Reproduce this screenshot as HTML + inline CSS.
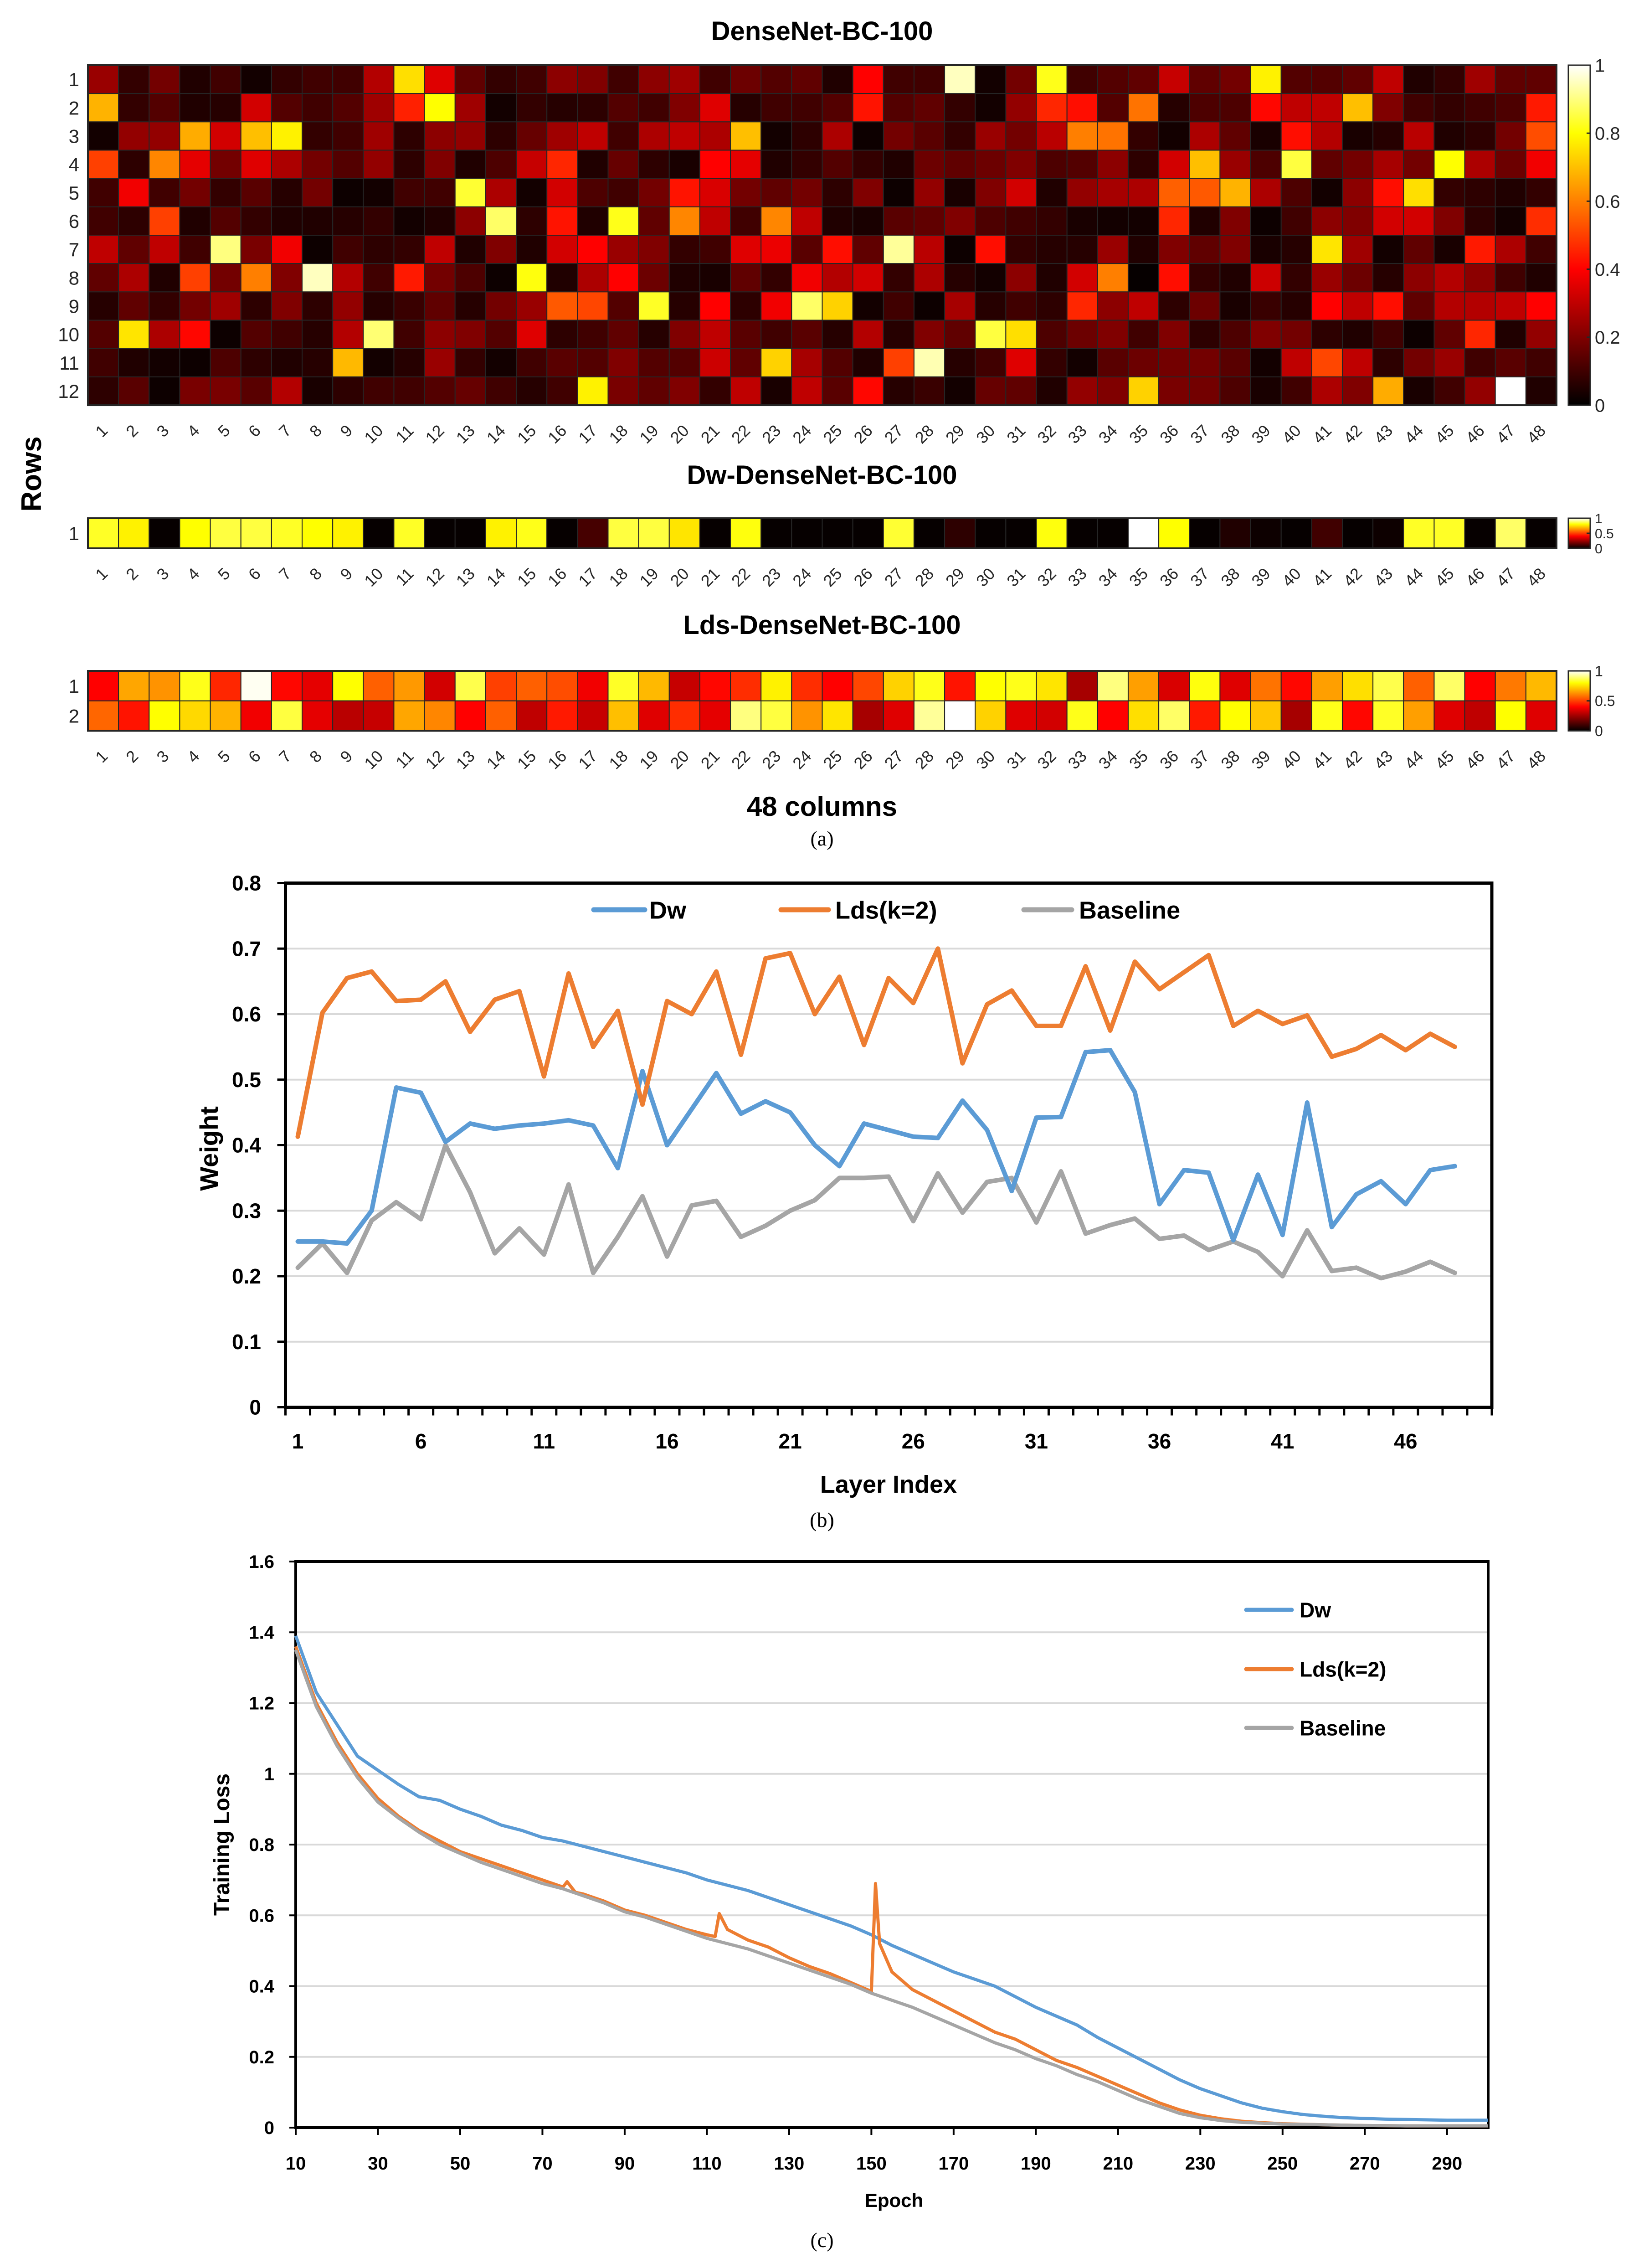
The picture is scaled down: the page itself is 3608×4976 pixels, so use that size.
<!DOCTYPE html>
<html><head><meta charset="utf-8"><title>DenseNet weights figure</title>
<style>
html,body{margin:0;padding:0;background:#fff;}
svg{display:block;}
.t{font-family:"Liberation Sans Narrow","Liberation Sans",sans-serif;font-weight:bold;fill:#000;}
.m{font-family:"Liberation Sans",sans-serif;fill:#262626;}
.s{font-family:"Liberation Serif",serif;fill:#000;}
</style></head>
<body>
<svg id="fig" xmlns="http://www.w3.org/2000/svg" width="3608" height="4976" viewBox="0 0 3608 4976">
<defs>
<linearGradient id="hotgrad" x1="0" y1="1" x2="0" y2="0">
<stop offset="0" stop-color="#000"/><stop offset="0.4" stop-color="#f00"/><stop offset="0.8" stop-color="#ff0"/><stop offset="1" stop-color="#fff"/>
</linearGradient>
</defs>
<g id="panelA"></g>
<g id="panelB"></g>
<g id="panelC"></g>
</svg>
<script>
// ---------- Panel (a) data ----------
const heatCols = [1,2,3,4,5,6,7,8,9,10,11,12,13,14,15,16,17,18,19,20,21,22,23,24,25,26,27,28,29,30,31,32,33,34,35,36,37,38,39,40,41,42,43,44,45,46,47,48];
const denseRow1 = [.24,.08,.18,.05,.1,.03,.08,.1,.1,.28,.75,.35,.15,.08,.1,.22,.2,.1,.22,.25,.1,.17,.13,.15,.05,.4,.1,.1,.95,.03,.18,.82,.1,.13,.15,.31,.15,.18,.78,.13,.13,.15,.3,.05,.08,.25,.15,.15];
const denseRow2 = [.68,.08,.13,.05,.06,.33,.13,.1,.13,.25,.45,.8,.25,.03,.08,.06,.07,.13,.1,.2,.35,.06,.1,.1,.13,.43,.13,.15,.08,.03,.23,.46,.42,.13,.58,.06,.12,.12,.41,.3,.3,.7,.2,.1,.08,.1,.12,.44];
const denseRow3 = [.03,.23,.23,.67,.33,.7,.78,.08,.1,.25,.07,.22,.23,.07,.16,.25,.3,.1,.27,.3,.27,.7,.03,.07,.27,.02,.18,.14,.08,.24,.18,.29,.6,.58,.08,.03,.27,.15,.04,.42,.28,.04,.06,.29,.05,.07,.18,.52];
const denseRow4 = [.5,.07,.61,.36,.18,.35,.27,.18,.13,.23,.07,.2,.05,.12,.31,.46,.05,.16,.07,.04,.4,.36,.05,.08,.13,.08,.05,.17,.15,.17,.2,.12,.13,.22,.07,.33,.7,.24,.12,.85,.15,.18,.26,.18,.8,.27,.17,.38];
const denseRow5 = [.1,.38,.1,.18,.08,.14,.06,.18,.02,.03,.1,.1,.84,.27,.03,.33,.12,.1,.18,.43,.34,.18,.15,.18,.07,.2,.02,.23,.04,.2,.33,.05,.23,.26,.27,.55,.54,.68,.27,.12,.03,.22,.42,.75,.08,.07,.05,.08];
const denseRow6 = [.1,.07,.5,.05,.13,.08,.05,.05,.06,.08,.03,.05,.22,.88,.07,.43,.05,.82,.15,.61,.3,.1,.61,.3,.05,.04,.14,.15,.2,.12,.1,.08,.04,.03,.03,.46,.05,.2,.02,.1,.22,.2,.33,.33,.2,.07,.03,.47];
const denseRow7 = [.3,.15,.3,.1,.9,.19,.38,.02,.1,.07,.08,.3,.05,.2,.05,.33,.4,.24,.2,.08,.1,.35,.37,.14,.42,.15,.92,.29,.02,.42,.08,.06,.06,.24,.05,.2,.15,.2,.04,.06,.76,.25,.03,.15,.04,.44,.27,.1];
const denseRow8 = [.15,.27,.05,.5,.18,.6,.2,.95,.28,.1,.44,.18,.12,.02,.81,.05,.27,.4,.17,.05,.04,.15,.08,.38,.28,.33,.08,.27,.06,.03,.22,.05,.33,.6,.01,.42,.08,.05,.32,.08,.24,.17,.06,.22,.28,.22,.1,.05];
const denseRow9 = [.06,.15,.08,.18,.25,.07,.2,.07,.23,.06,.09,.15,.06,.18,.24,.54,.51,.13,.83,.06,.4,.07,.38,.88,.73,.03,.1,.02,.26,.06,.1,.07,.46,.22,.3,.07,.17,.04,.09,.06,.4,.3,.42,.15,.28,.28,.3,.4];
const denseRow10 = [.13,.76,.27,.41,.02,.13,.1,.06,.28,.89,.1,.22,.2,.13,.35,.07,.1,.15,.06,.2,.3,.14,.1,.14,.06,.28,.06,.2,.15,.85,.75,.12,.17,.2,.1,.2,.07,.12,.2,.18,.07,.05,.1,.02,.15,.46,.05,.23];
const denseRow11 = [.1,.05,.03,.02,.12,.07,.05,.06,.69,.03,.06,.24,.08,.03,.1,.14,.13,.2,.13,.13,.32,.15,.73,.26,.13,.05,.5,.94,.06,.1,.35,.08,.03,.14,.17,.18,.18,.14,.03,.3,.51,.3,.07,.18,.24,.1,.14,.1];
const denseRow12 = [.07,.14,.02,.19,.19,.14,.28,.04,.07,.1,.1,.13,.16,.1,.06,.1,.78,.19,.15,.2,.08,.3,.04,.3,.14,.41,.06,.09,.03,.16,.15,.05,.23,.2,.73,.19,.18,.12,.04,.1,.27,.2,.67,.04,.1,.23,1.0,.05];
const dwRow1 = [.83,.78,.01,.8,.85,.85,.83,.8,.78,.01,.83,.01,.01,.78,.82,.01,.11,.85,.85,.76,.01,.81,.01,.01,.01,.01,.84,.01,.07,.01,.01,.81,.01,.01,1.0,.8,.01,.05,.02,.01,.1,.01,.02,.83,.83,.01,.88,.01];
const ldsRow1 = [.4,.66,.63,.82,.46,.99,.41,.36,.8,.55,.64,.33,.86,.5,.55,.52,.38,.83,.69,.31,.41,.47,.78,.47,.4,.51,.73,.82,.43,.8,.82,.76,.26,.9,.65,.34,.81,.35,.58,.41,.65,.75,.86,.55,.88,.4,.59,.69];
const ldsRow2 = [.56,.43,.8,.74,.68,.38,.85,.36,.29,.31,.66,.61,.4,.55,.3,.44,.31,.7,.35,.47,.36,.9,.85,.63,.76,.26,.35,.92,1.0,.73,.35,.33,.82,.4,.75,.88,.44,.8,.71,.26,.82,.41,.83,.65,.35,.3,.8,.35];
const denseCbTicks = [0,0.2,0.4,0.6,0.8,1];
const smallCbTicks = [0,0.5,1];

// ---------- Panel (b) data ----------
const layerIdx = [1,2,3,4,5,6,7,8,9,10,11,12,13,14,15,16,17,18,19,20,21,22,23,24,25,26,27,28,29,30,31,32,33,34,35,36,37,38,39,40,41,42,43,44,45,46,47,48];
const dwWeight = [.253,.253,.25,.30,.488,.48,.405,.433,.425,.43,.433,.438,.43,.365,.513,.40,.455,.51,.448,.467,.45,.40,.368,.433,.423,.413,.411,.468,.423,.33,.442,.443,.542,.545,.481,.31,.362,.358,.255,.355,.263,.465,.275,.325,.345,.31,.362,.368];
const ldsWeight = [.413,.602,.655,.665,.62,.622,.65,.573,.622,.635,.505,.662,.55,.605,.462,.62,.6,.665,.538,.685,.693,.6,.657,.553,.655,.617,.70,.525,.615,.636,.582,.582,.673,.575,.68,.638,.664,.69,.582,.605,.585,.598,.535,.547,.568,.545,.57,.55];
const baseWeight = [.213,.25,.205,.285,.313,.287,.40,.328,.235,.273,.233,.34,.205,.26,.322,.23,.308,.315,.26,.277,.30,.316,.35,.35,.352,.284,.357,.297,.344,.35,.282,.36,.265,.278,.288,.257,.262,.24,.253,.237,.20,.27,.208,.213,.197,.207,.222,.205];
const bYTicks = [0,0.1,0.2,0.3,0.4,0.5,0.6,0.7,0.8];
const bXLabels = [1,6,11,16,21,26,31,36,41,46];

// ---------- Panel (c) data ----------
const dwEpochs = [10,15,20,25,30,35,40,45,50,55,60,65,70,75,80,85,90,95,100,105,110,115,120,125,130,135,140,145,150,155,160,165,170,175,180,185,190,195,200,205,210,215,220,225,230,235,240,245,250,255,260,265,270,275,280,285,290,295,300];
const dwLoss = [1.39,1.23,1.14,1.05,1.01,0.97,0.935,0.925,0.90,0.88,0.855,0.84,0.82,0.81,0.795,0.78,0.765,0.75,0.735,0.72,0.70,0.685,0.67,0.65,0.63,0.61,0.59,0.57,0.545,0.515,0.49,0.465,0.44,0.42,0.40,0.37,0.34,0.315,0.29,0.255,0.225,0.195,0.165,0.135,0.11,0.09,0.07,0.055,0.045,0.037,0.032,0.028,0.026,0.024,0.023,0.022,0.021,0.021,0.021];
const ldsEpochs = [10,15,20,25,30,35,40,45,50,55,60,65,70,75,76,78,80,85,90,95,100,105,110,112,113,115,120,125,130,135,140,145,150,151,152,155,160,165,170,175,180,185,190,195,200,205,210,215,220,225,230,235,240,245,250,260,270,280,290,300];
const ldsLoss = [1.36,1.2,1.09,1.0,0.93,0.88,0.84,0.81,0.78,0.76,0.74,0.72,0.70,0.68,0.695,0.665,0.66,0.64,0.615,0.6,0.58,0.56,0.545,0.54,0.605,0.56,0.53,0.51,0.48,0.455,0.435,0.41,0.385,0.69,0.52,0.44,0.39,0.36,0.33,0.30,0.27,0.25,0.22,0.19,0.17,0.145,0.12,0.095,0.07,0.05,0.035,0.025,0.018,0.014,0.011,0.008,0.006,0.005,0.005,0.005];
const baseEpochs = [10,15,20,25,30,35,40,45,50,55,60,65,70,75,80,85,90,95,100,105,110,115,120,125,130,135,140,145,150,155,160,165,170,175,180,185,190,195,200,205,210,215,220,225,230,235,240,250,260,270,280,300];
const baseLoss = [1.35,1.19,1.08,0.99,0.92,0.875,0.835,0.80,0.775,0.75,0.73,0.71,0.69,0.675,0.655,0.635,0.61,0.595,0.575,0.555,0.535,0.52,0.505,0.485,0.465,0.445,0.425,0.405,0.38,0.36,0.34,0.315,0.29,0.265,0.24,0.22,0.195,0.175,0.15,0.13,0.105,0.08,0.06,0.04,0.028,0.02,0.015,0.01,0.008,0.006,0.005,0.005];
const cYTicks = [0,0.2,0.4,0.6,0.8,1,1.2,1.4,1.6];
const cYTickText = ["0","0.2","0.4","0.6","0.8","1","1.2","1.4","1.6"];
const cXTicks = [10,30,50,70,90,110,130,150,170,190,210,230,250,270,290];

const NS = "http://www.w3.org/2000/svg";
function mk(parent, tag, attrs, text){
  const e = document.createElementNS(NS, tag);
  for (const k in attrs) e.setAttribute(k, attrs[k]);
  if (text !== undefined) e.textContent = text;
  parent.appendChild(e);
  return e;
}
function hot(v){
  const c = x => Math.max(0, Math.min(1, x));
  const r = Math.round(255*c(v/0.4)), g = Math.round(255*c((v-0.4)/0.4)), b = Math.round(255*c((v-0.8)/0.2));
  return `rgb(${r},${g},${b})`;
}

// ---------- Panel (a) ----------
const A = document.getElementById('panelA');
const HX0 = 193, HW = 3223, CW = HW/heatCols.length;
function colX(i){ return HX0 + i*CW; }

function heatmap(rows, y0, rh, name, cbTicks, cbFont){
  const g = mk(A, 'g', {});
  
  
  rows.forEach((row, r) => {
    row.forEach((v, c) => {
      const rect = mk(g, 'rect', {x: colX(c), y: y0 + r*rh, width: CW, height: rh, fill: hot(v), stroke: '#262626', 'stroke-width': 2});
      
      
    });
    const rl = mk(g, 'text', {x: 174, y: y0 + r*rh + rh/2 + 15, 'text-anchor': 'end', 'font-size': 42, class: 'm'}, String(r+1));
    
    
  });
  const bottom = y0 + rows.length*rh;
  mk(g, 'rect', {x: HX0, y: y0, width: HW, height: bottom - y0, fill: 'none', stroke: '#262626', 'stroke-width': 4});
  heatCols.forEach((lab, c) => {
    const cx = colX(c) + CW/2 + 12, cy = bottom + 58;
    const t = mk(g, 'text', {x: cx, y: cy, 'text-anchor': 'end', 'font-size': 36, class: 'm', transform: `rotate(-45 ${cx} ${cy})`}, String(lab));
    
    
  });
  const cbx = 3442, cbw = 48;
  const cb = mk(g, 'rect', {x: cbx, y: y0, width: cbw, height: bottom - y0, fill: 'url(#hotgrad)', stroke: '#262626', 'stroke-width': 3});
  
  
  cbTicks.forEach(tv => {
    const ty = bottom - tv*(bottom - y0);
    mk(g, 'line', {x1: cbx + cbw - 8, x2: cbx + cbw, y1: ty, y2: ty, stroke: '#262626', 'stroke-width': 3});
    const tl = mk(g, 'text', {x: cbx + cbw + 10, y: ty + cbFont*0.36, 'font-size': cbFont, class: 'm'}, String(tv));
    
    
  });
}

function title(txt, y, name, size){
  const t = mk(A, 'text', {x: 1804, y: y, 'text-anchor': 'middle', 'font-size': size, class: 't'}, txt);
  
  
}
title('DenseNet-BC-100', 88, 'densenet-title', 58);
heatmap([denseRow1,denseRow2,denseRow3,denseRow4,denseRow5,denseRow6,denseRow7,denseRow8,denseRow9,denseRow10,denseRow11,denseRow12], 143, 62.17, 'densenet-heatmap', denseCbTicks, 40);
title('Dw-DenseNet-BC-100', 1062, 'dw-densenet-title', 58);
heatmap([dwRow1], 1137, 66, 'dw-heatmap', smallCbTicks, 30);
title('Lds-DenseNet-BC-100', 1391, 'lds-densenet-title', 58);
heatmap([ldsRow1, ldsRow2], 1472, 65.7, 'lds-heatmap', smallCbTicks, 32);
{
  const r = mk(A, 'text', {x: 0, y: 0, 'text-anchor': 'middle', 'font-size': 62, class: 't', transform: 'translate(90 1040) rotate(-90)'}, 'Rows');
  
  
  title('48 columns', 1790, 'columns-axis-title', 60);
  const s = mk(A, 'text', {x: 1804, y: 1855, 'text-anchor': 'middle', 'font-size': 46, class: 's'}, '(a)');
  
  
}

// ---------- Panel (b) ----------
const B = document.getElementById('panelB');
const bL = 626.5, bR = 3274, bT = 1937.5, bB = 3087.5, bSlots = 49, bSW = (bR - bL)/bSlots;
const bx = i => bL + (i - 0.5)*bSW;
const by = v => bB - v/0.8*(bB - bT);
bYTicks.forEach(v => {
  if (v > 0) mk(B, 'line', {x1: bL, x2: bR, y1: by(v), y2: by(v), stroke: '#d9d9d9', 'stroke-width': 4});
  mk(B, 'line', {x1: bL - 18, x2: bL, y1: by(v), y2: by(v), stroke: '#000', 'stroke-width': 5});
  const t = mk(B, 'text', {x: 573, y: by(v) + 16, 'text-anchor': 'end', 'font-size': 46, class: 't'}, v === 0 ? '0' : v.toFixed(1));
  
  
});
for (let k = 0; k <= bSlots; k++) mk(B, 'line', {x1: bL + k*bSW, x2: bL + k*bSW, y1: bB, y2: bB + 18, stroke: '#000', 'stroke-width': 5});
bXLabels.forEach(l => {
  const t = mk(B, 'text', {x: bx(l), y: 3178, 'text-anchor': 'middle', 'font-size': 46, class: 't'}, String(l));
  
  
});
mk(B, 'rect', {x: bL, y: bT, width: bR - bL, height: bB - bT, fill: 'none', stroke: '#000', 'stroke-width': 7});
function bSeries(vals, color, name){
  const p = mk(B, 'polyline', {points: vals.map((v, i) => `${bx(layerIdx[i])},${by(v)}`).join(' '), fill: 'none', stroke: color, 'stroke-width': 10, 'stroke-linejoin': 'round', 'stroke-linecap': 'round'});
  
  
}
bSeries(baseWeight, '#a5a5a5', 'baseline-line');
bSeries(dwWeight, '#5b9bd5', 'dw-line');
bSeries(ldsWeight, '#ed7d31', 'lds-line');
function legend(parent, x1, x2, y, color, txt, tx, fs, sw, name){
  const g = mk(parent, 'g', {});
  
  
  mk(g, 'line', {x1: x1, x2: x2, y1: y, y2: y, stroke: color, 'stroke-width': sw, 'stroke-linecap': 'round'});
  mk(g, 'text', {x: tx, y: y + fs*0.36, 'font-size': fs, class: 't'}, txt);
}
legend(B, 1303, 1415, 1996, '#5b9bd5', 'Dw', 1425, 54, 11, 'legend-dw');
legend(B, 1714, 1818, 1996, '#ed7d31', 'Lds(k=2)', 1833, 54, 11, 'legend-lds');
legend(B, 2247, 2352, 1996, '#a5a5a5', 'Baseline', 2368, 54, 11, 'legend-baseline');
{
  const t = mk(B, 'text', {x: 0, y: 0, 'text-anchor': 'middle', 'font-size': 56, class: 't', transform: 'translate(478 2520) rotate(-90)'}, 'Weight');
  
  
  const x = mk(B, 'text', {x: 1950, y: 3275, 'text-anchor': 'middle', 'font-size': 54, class: 't'}, 'Layer Index');
  
  
  const s = mk(B, 'text', {x: 1804, y: 3350, 'text-anchor': 'middle', 'font-size': 46, class: 's'}, '(b)');
  
  
}

// ---------- Panel (c) ----------
const C = document.getElementById('panelC');
const cL = 649, cR = 3266, cT = 3426, cB = 4668;
const cx = e => cL + (e - 10)/290*(cR - cL);
const cy = v => cB - v/1.6*(cB - cT);
cYTicks.forEach((v, i) => {
  if (v > 0) mk(C, 'line', {x1: cL, x2: cR, y1: cy(v), y2: cy(v), stroke: '#d9d9d9', 'stroke-width': 4});
  mk(C, 'line', {x1: cL - 14, x2: cL, y1: cy(v), y2: cy(v), stroke: '#000', 'stroke-width': 4});
  const t = mk(C, 'text', {x: 602, y: cy(v) + 14, 'text-anchor': 'end', 'font-size': 40, class: 't'}, cYTickText[i]);
  
  
});
cXTicks.forEach(e => {
  mk(C, 'line', {x1: cx(e), x2: cx(e), y1: cB, y2: cB + 16, stroke: '#000', 'stroke-width': 4});
  const t = mk(C, 'text', {x: cx(e), y: 4760, 'text-anchor': 'middle', 'font-size': 40, class: 't'}, String(e));
  
  
});
mk(C, 'rect', {x: cL, y: cT, width: cR - cL, height: cB - cT, fill: 'none', stroke: '#000', 'stroke-width': 6});
function cSeries(ep, vals, color, name){
  const p = mk(C, 'polyline', {points: vals.map((v, i) => `${cx(ep[i])},${cy(v)}`).join(' '), fill: 'none', stroke: color, 'stroke-width': 7, 'stroke-linejoin': 'round'});
  
  
}
cSeries(dwEpochs, dwLoss, '#5b9bd5', 'dw-loss-line');
cSeries(ldsEpochs, ldsLoss, '#ed7d31', 'lds-loss-line');
cSeries(baseEpochs, baseLoss, '#a5a5a5', 'baseline-loss-line');
legend(C, 2735, 2835, 3532, '#5b9bd5', 'Dw', 2852, 46, 9, 'legend-dw-c');
legend(C, 2735, 2835, 3662, '#ed7d31', 'Lds(k=2)', 2852, 46, 9, 'legend-lds-c');
legend(C, 2735, 2835, 3791, '#a5a5a5', 'Baseline', 2852, 46, 9, 'legend-baseline-c');
{
  const t = mk(C, 'text', {x: 0, y: 0, 'text-anchor': 'middle', 'font-size': 48, class: 't', transform: 'translate(503 4047) rotate(-90)'}, 'Training Loss');
  
  
  const x = mk(C, 'text', {x: 1962, y: 4842, 'text-anchor': 'middle', 'font-size': 42, class: 't'}, 'Epoch');
  
  
  const s = mk(C, 'text', {x: 1804, y: 4930, 'text-anchor': 'middle', 'font-size': 46, class: 's'}, '(c)');
  
  
}
</script>
</body></html>
